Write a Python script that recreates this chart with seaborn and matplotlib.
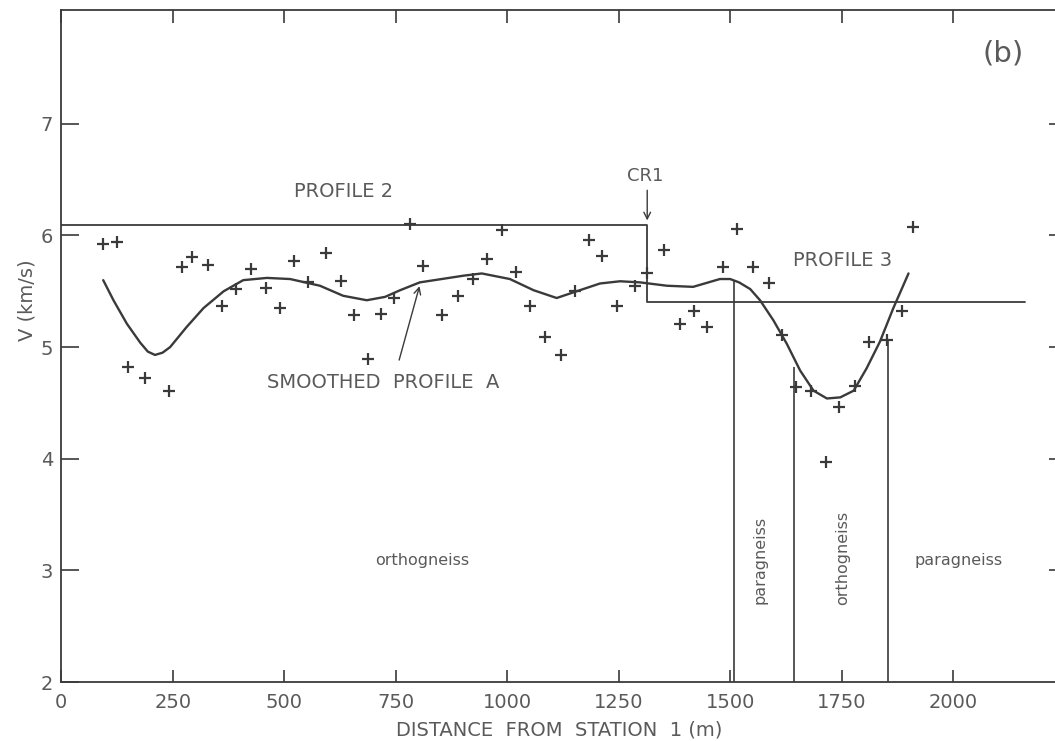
import matplotlib
matplotlib.use("Agg")
import matplotlib.pyplot as plt
import seaborn as sns
import numpy as np
import pandas as pd

# ---- data ----
obs_x = [93, 126, 150, 188, 242, 270, 294, 328, 361, 391, 425, 458, 490, 522, 554,
         593, 627, 657, 688, 718, 747, 782, 812, 853, 890, 924, 955, 988, 1020, 1051,
         1085, 1120, 1152, 1183, 1212, 1247, 1287, 1314, 1352, 1387, 1420, 1449, 1484,
         1515, 1552, 1586, 1616, 1647, 1681, 1716, 1745, 1780, 1812, 1851, 1886, 1910]
obs_v = [5.92, 5.94, 4.82, 4.72, 4.61, 5.72, 5.81, 5.74, 5.37, 5.52, 5.70, 5.53, 5.35,
         5.77, 5.58, 5.84, 5.59, 5.29, 4.89, 5.30, 5.44, 6.10, 5.73, 5.29, 5.46, 5.61,
         5.79, 6.05, 5.67, 5.37, 5.09, 4.93, 5.50, 5.96, 5.82, 5.37, 5.55, 5.66, 5.87,
         5.21, 5.32, 5.18, 5.72, 6.06, 5.72, 5.57, 5.11, 4.64, 4.61, 3.97, 4.46, 4.65,
         5.05, 5.06, 5.32, 6.08]

smooth_x = [94, 117, 147, 177, 194, 210, 227, 244, 281, 319, 364, 408, 461, 513, 580,
            632, 685, 726, 760, 804, 902, 943, 1006, 1059, 1111, 1148, 1208, 1253,
            1298, 1358, 1417, 1477, 1500, 1520, 1545, 1567, 1597, 1627, 1657, 1687,
            1717, 1747, 1777, 1806, 1836, 1866, 1900]
smooth_v = [5.60, 5.42, 5.21, 5.04, 4.96, 4.93, 4.95, 5.00, 5.18, 5.35, 5.50, 5.60,
            5.62, 5.61, 5.55, 5.46, 5.42, 5.45, 5.51, 5.58, 5.64, 5.66, 5.61, 5.51,
            5.44, 5.49, 5.57, 5.59, 5.58, 5.55, 5.54, 5.61, 5.61, 5.58, 5.52, 5.42,
            5.24, 5.03, 4.79, 4.61, 4.54, 4.55, 4.61, 4.81, 5.05, 5.35, 5.66]

profile_x = [0, 1314, 1314, 2161]
profile_v = [6.09, 6.09, 5.40, 5.40]

boundary_x = [1509, 1643, 1854]
boundary_top = [5.59, 4.82, 5.06]

x_ticks = [0, 250, 500, 750, 1000, 1250, 1500, 1750, 2000]
y_ticks = [2, 3, 4, 5, 6, 7]

# ---- styling ----
sns.set_theme(style="white")
plt.rcParams["font.family"] = ["DejaVu Sans"]
INK = "#3a3a3a"
TXT = "#5a5a5a"

fig = plt.figure(figsize=(10.55, 7.41), dpi=100)
ax = fig.add_axes([0.0581, 0.0796, 0.9438, 0.9069])

obs = pd.DataFrame({"x": obs_x, "v": obs_v})
smooth = pd.DataFrame({"x": smooth_x, "v": smooth_v})
prof = pd.DataFrame({"x": profile_x, "v": profile_v})

sns.lineplot(data=prof, x="x", y="v", sort=False, estimator=None, ax=ax,
             color=INK, linewidth=1.3)
sns.lineplot(data=smooth, x="x", y="v", sort=False, estimator=None, ax=ax,
             color=INK, linewidth=1.7, solid_joinstyle="round")
sns.scatterplot(data=obs, x="x", y="v", marker="+", s=80, linewidth=1.6,
                color=INK, ax=ax, zorder=5)

ax.vlines(boundary_x, ymin=2, ymax=boundary_top, color=INK, linewidth=1.2)

ax.set_xlim(0, 2233)
ax.set_ylim(2, 8.02)
ax.set_xticks(x_ticks)
ax.set_yticks(y_ticks)
ax.set_xticklabels([str(t) for t in x_ticks])
ax.set_yticklabels([str(t) for t in y_ticks])

for s in ["left", "bottom", "top"]:
    ax.spines[s].set_visible(True)
    ax.spines[s].set_color(INK)
    ax.spines[s].set_linewidth(1.3)
ax.spines["right"].set_visible(False)

ax.tick_params(axis="y", direction="in", length=13, width=1.2, color=INK,
               labelsize=14, labelcolor=TXT, pad=6, left=True)
ax.tick_params(axis="x", direction="in", length=9, width=1.2, color=INK,
               labelsize=14, labelcolor=TXT, pad=8, bottom=True, top=True)

sec = ax.secondary_yaxis("right")
sec.set_yticks([3, 4, 5, 6, 7])
sec.tick_params(direction="in", length=6, width=1.2, color=INK, labelright=False)
sec.spines["right"].set_visible(False)

ax.set_xlabel("DISTANCE  FROM  STATION  1 (m)", fontsize=14, color=TXT, labelpad=6)
ax.set_ylabel("V (km/s)", fontsize=14, color=TXT)
ax.yaxis.set_label_coords(-0.025, 0.568)

# annotations
ax.text(632, 6.39, "PROFILE 2", fontsize=14, color=TXT, ha="center", va="center")
ax.text(1309, 6.53, "CR1", fontsize=13, color=TXT, ha="center", va="center")
ax.annotate("", xy=(1314, 6.11), xytext=(1314, 6.43),
            arrowprops=dict(arrowstyle="->", color=INK, lw=1.0))
ax.text(1753, 5.78, "PROFILE 3", fontsize=14, color=TXT, ha="center", va="center")
ax.text(722, 4.68, "SMOOTHED  PROFILE  A", fontsize=14, color=TXT,
        ha="center", va="center")
ax.annotate("", xy=(805, 5.57), xytext=(756, 4.86),
            arrowprops=dict(arrowstyle="->", color=INK, lw=1.0))
ax.text(809, 3.09, "orthogneiss", fontsize=11.5, color=TXT, ha="center", va="center")
ax.text(1567, 3.09, "paragneiss", fontsize=11.5, color=TXT, ha="center",
        va="center", rotation=90)
ax.text(1753, 3.11, "orthogneiss", fontsize=11.5, color=TXT, ha="center",
        va="center", rotation=90)
ax.text(2013, 3.09, "paragneiss", fontsize=11.5, color=TXT, ha="center", va="center")
ax.text(2112, 7.63, "(b)", fontsize=21, color=TXT, ha="center", va="center")

fig.savefig("out.png", dpi=100)
